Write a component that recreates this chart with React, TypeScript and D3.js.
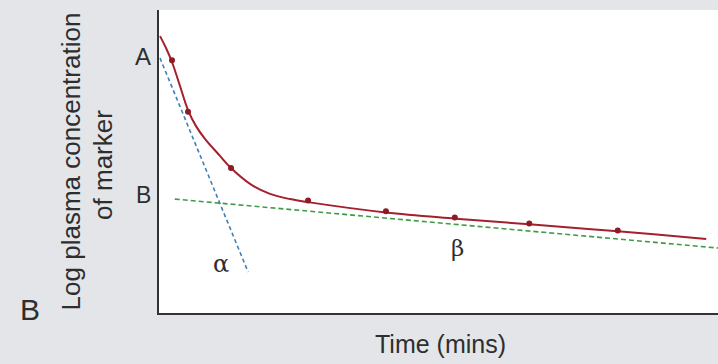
import React from "react";
import * as d3 from "d3";

// Fitted curve (time in arbitrary minutes, log concentration in arbitrary units)
const curveTime = [0.36, 1.43, 2.5, 3.93, 5.36, 6.79, 8.39, 11.07, 13.04, 16.43, 20, 23.57, 26.79, 40.7, 53, 66.3, 82.1, 97.9];
const curveLogConc = [9.14, 8.75, 8.29, 7.5, 6.71, 6.18, 5.76, 5.2, 4.8, 4.28, 3.95, 3.78, 3.68, 3.34, 3.14, 2.95, 2.72, 2.47];

// Measured samples
const sampleTime = [2.5, 5.36, 13.04, 26.8, 40.7, 53, 66.3, 82.1];
const sampleLogConc = [8.33, 6.64, 4.79, 3.72, 3.36, 3.16, 2.96, 2.73];

// Extrapolated phase lines (start, end)
const alphaTime = [0.36, 16.1];
const alphaLogConc = [8.42, 1.38];
const betaTime = [3.0, 100];
const betaLogConc = [3.78, 2.17];

const W = 718;
const H = 364;
const plot = { left: 158, right: 718, top: 10, bottom: 314 };

export default function App() {
  const x = d3.scaleLinear().domain([0, 100]).range([plot.left, plot.right]);
  const y = d3.scaleLinear().domain([0, 10]).range([plot.bottom, plot.top]);

  const curveData = curveTime.map((t, i) => [t, curveLogConc[i]] as [number, number]);
  const line = d3
    .line<[number, number]>()
    .x((d) => x(d[0]))
    .y((d) => y(d[1]))
    .curve(d3.curveCatmullRom.alpha(0.5));
  const straight = d3
    .line<[number, number]>()
    .x((d) => x(d[0]))
    .y((d) => y(d[1]));
  const alphaData = alphaTime.map((t, i) => [t, alphaLogConc[i]] as [number, number]);
  const betaData = betaTime.map((t, i) => [t, betaLogConc[i]] as [number, number]);

  const font = "'Liberation Sans', Arial, Helvetica, sans-serif";
  const txt = "#2e2e2e";

  return (
    <svg
      width={W}
      height={H}
      style={{ position: "absolute", left: 0, top: 0, background: "#e3e5e9" }}
      fontFamily={font}
    >
      <rect x={0} y={0} width={W} height={H} fill="#e3e5e9" />
      <rect
        x={plot.left}
        y={plot.top}
        width={plot.right - plot.left}
        height={plot.bottom - plot.top}
        fill="#ffffff"
      />
      {/* phase lines */}
      <path
        d={straight(alphaData) || ""}
        fill="none"
        stroke="#3f7fb8"
        strokeWidth={1.6}
        strokeDasharray="4 3"
      />
      <path
        d={straight(betaData) || ""}
        fill="none"
        stroke="#3e9c46"
        strokeWidth={1.6}
        strokeDasharray="5 3"
      />
      {/* fitted curve */}
      <path d={line(curveData) || ""} fill="none" stroke="#a3202f" strokeWidth={2} />
      {sampleTime.map((t, i) => (
        <circle key={i} cx={x(t)} cy={y(sampleLogConc[i]) - 0.5} r={3} fill="#8e1a26" />
      ))}
      {/* axes */}
      <line x1={plot.left} x2={plot.left} y1={plot.top} y2={plot.bottom} stroke="#333" strokeWidth={2} />
      <line x1={plot.left - 1} x2={plot.right} y1={plot.bottom} y2={plot.bottom} stroke="#333" strokeWidth={2} />

      {/* labels */}
      <text x={135} y={65} fontSize={24} fill={txt}>A</text>
      <text x={136} y={203} fontSize={23} fill={txt}>B</text>
      <text x={213} y={272} fontSize={24} fill={txt} fontFamily="'DejaVu Serif', serif">α</text>
      <text x={451} y={256} fontSize={23} fill={txt} fontFamily="'DejaVu Serif', serif">β</text>
      <text x={20} y={320} fontSize={30} fill={txt}>B</text>
      <text
        transform="translate(80,161.5) rotate(-90)"
        textAnchor="middle"
        fontSize={26}
        fill={txt}
      >
        Log plasma concentration
      </text>
      <text
        transform="translate(112,165) rotate(-90)"
        textAnchor="middle"
        fontSize={26}
        fill={txt}
      >
        of marker
      </text>
      <text x={375} y={353} fontSize={25} fill={txt}>
        Time (mins)
      </text>
    </svg>
  );
}
